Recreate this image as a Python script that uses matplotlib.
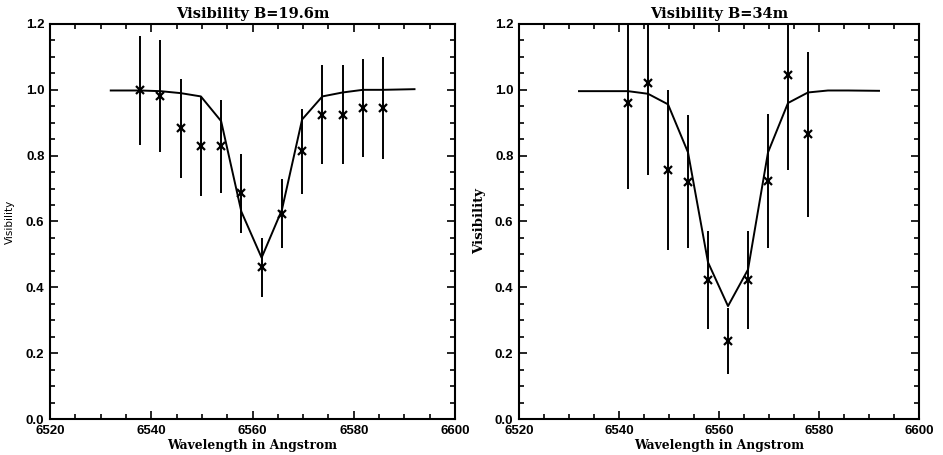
import matplotlib
matplotlib.use("Agg")
import matplotlib.pyplot as plt
from matplotlib.ticker import MultipleLocator

# Model curves (same wavelength grid for both baselines)
model_wl = [6532, 6537.8, 6541.8, 6545.8, 6549.8, 6553.8, 6557.8, 6561.8,
            6565.8, 6569.8, 6573.8, 6577.8, 6581.8, 6585.8, 6592]
model_196 = [0.998, 0.998, 0.996, 0.99, 0.98, 0.905, 0.63, 0.49,
             0.635, 0.91, 0.98, 0.992, 1.0, 1.0, 1.002]
model_34 = [0.996, 0.996, 0.996, 0.988, 0.956, 0.81, 0.476, 0.343,
            0.454, 0.81, 0.96, 0.992, 0.998, 0.998, 0.997]

# Measured visibilities, B=19.6m
wl_196 = [6537.8, 6541.8, 6545.8, 6549.8, 6553.8, 6557.8, 6561.8,
          6565.8, 6569.8, 6573.8, 6577.8, 6581.8, 6585.8]
vis_196 = [0.998, 0.981, 0.883, 0.828, 0.828, 0.686, 0.461,
           0.623, 0.813, 0.924, 0.924, 0.945, 0.945]
err_196 = [0.165, 0.17, 0.15, 0.15, 0.142, 0.12, 0.09,
           0.105, 0.13, 0.15, 0.15, 0.15, 0.154]

# Measured visibilities, B=34m
wl_34 = [6541.8, 6545.8, 6549.8, 6553.8, 6557.8, 6561.8, 6565.8,
         6569.8, 6573.8, 6577.8]
vis_34 = [0.960, 1.021, 0.756, 0.721, 0.422, 0.238, 0.422,
          0.723, 1.045, 0.865]
err_34 = [0.26, 0.28, 0.243, 0.203, 0.15, 0.1, 0.15,
          0.205, 0.29, 0.25]

plt.rcParams["font.family"] = "Liberation Sans"
plt.rcParams["font.weight"] = "bold"
plt.rcParams["xtick.labelsize"] = 9.5
plt.rcParams["ytick.labelsize"] = 9.5

fig = plt.figure(figsize=(9.43, 4.55), dpi=100)
ax1 = fig.add_axes([50 / 943, 36 / 455, 405 / 943, 395 / 455])
ax2 = fig.add_axes([519 / 943, 36 / 455, 400 / 943, 395 / 455])

panels = [
    (ax1, model_196, wl_196, vis_196, err_196, "Visibility B=19.6m"),
    (ax2, model_34, wl_34, vis_34, err_34, "Visibility B=34m"),
]

serif = {"family": "DejaVu Serif", "weight": "bold"}

for ax, model, wl, vis, err, title in panels:
    ax.plot(model_wl, model, color="black", linewidth=1.4)
    ax.errorbar(wl, vis, yerr=err, fmt="x", color="black", ecolor="black",
                elinewidth=1.4, markersize=5.5, markeredgewidth=1.6, capsize=0)
    ax.set_xlim(6520, 6600)
    ax.set_ylim(0, 1.2)
    ax.xaxis.set_major_locator(MultipleLocator(20))
    ax.xaxis.set_minor_locator(MultipleLocator(5))
    ax.yaxis.set_major_locator(MultipleLocator(0.2))
    ax.yaxis.set_minor_locator(MultipleLocator(0.05))
    ax.yaxis.set_major_formatter(plt.FormatStrFormatter("%.1f"))
    ax.tick_params(which="both", direction="in", top=True, right=True,
                   width=1.2, pad=4)
    ax.tick_params(which="major", length=6)
    ax.tick_params(which="minor", length=3.5)
    for sp in ax.spines.values():
        sp.set_linewidth(1.5)
    ax.set_title(title, fontsize=10.5, pad=4, **serif)
    ax.set_xlabel("Wavelength in Angstrom", fontsize=8.8, labelpad=2, **serif)

ax1.set_ylabel("Visibility", fontsize=7.5, family="DejaVu Sans",
               weight="normal", labelpad=8)
ax2.set_ylabel("Visibility", fontsize=9.5, labelpad=6, **serif)

fig.savefig("out.png", dpi=100)
